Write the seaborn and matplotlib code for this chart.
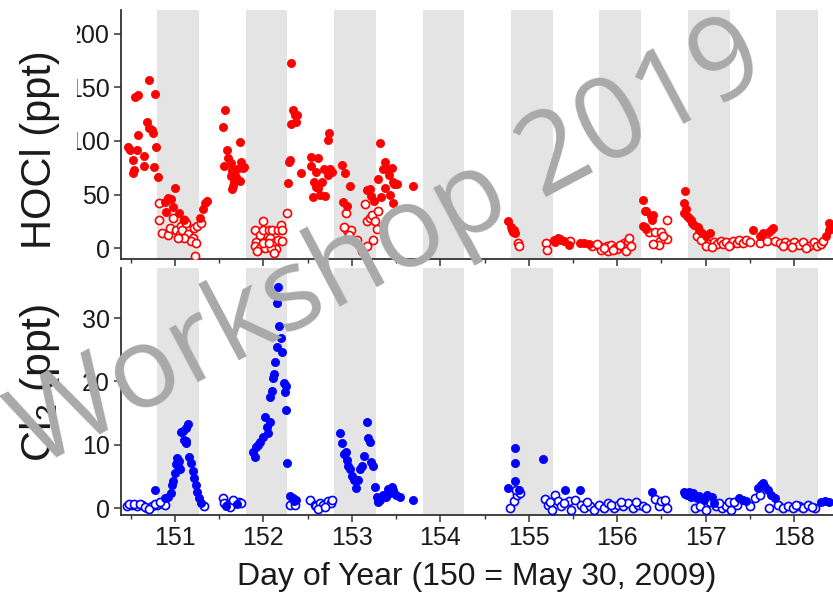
import matplotlib
matplotlib.use("Agg")
import matplotlib.pyplot as plt
from matplotlib.patches import Rectangle
from matplotlib.ticker import MultipleLocator
import pandas as pd
import seaborn as sns

# ---- nighttime intervals (day of year) ----
night_start = [150.80, 151.80, 152.80, 153.80, 154.80, 155.80, 156.80, 157.80]
night_end = [151.27, 152.27, 153.27, 154.27, 155.27, 156.27, 157.27, 158.27]

# ---- HOCl (ppt): above detection (filled) ----
hocl_fill_day = [
    150.47, 150.49, 150.53, 150.54, 150.53, 150.55, 150.58, 150.58, 150.57, 150.65,
    150.68, 150.71, 150.65, 150.71, 150.74, 150.75, 150.77, 150.76, 150.79, 150.81,
    150.89, 150.92, 150.95, 151.00, 150.98, 150.90, 151.05, 151.10, 151.28, 151.32,
    151.34, 151.36,
    151.57, 151.54, 151.59, 151.60, 151.56, 151.63, 151.64, 151.65, 151.63, 151.70,
    151.74, 151.69, 151.67, 151.66, 151.64, 151.74, 151.75, 151.77, 151.78,
    152.31, 152.34, 152.36, 152.37, 152.31, 152.38, 152.30, 152.29, 152.28, 152.42,
    152.54, 152.54, 152.56, 152.57, 152.60, 152.60, 152.62, 152.62, 152.64, 152.66,
    152.68, 152.70, 152.73, 152.74, 152.75, 152.77, 152.73, 152.89, 152.92, 152.98,
    152.95, 152.90,
    153.17, 153.20, 153.22, 153.25, 153.32, 153.35, 153.37, 153.40, 153.45, 153.46,
    153.48, 153.51, 153.47, 153.43, 153.33, 153.38, 153.69, 153.30, 153.42,
    154.77, 154.81, 154.82, 154.83, 154.85, 154.80,
    155.28, 155.33, 155.35, 155.40, 155.45, 155.58, 155.63, 155.68, 155.37, 155.30,
    156.29, 156.31, 156.33, 156.38, 156.40, 156.39, 156.31, 156.29, 156.33,
    156.77, 156.75, 156.76, 156.79, 156.83, 156.87, 156.91, 156.93, 156.96, 157.00,
    157.05, 156.78, 156.81, 156.85,
    157.54, 157.62, 157.65, 157.72, 157.76, 157.74,
    158.39, 158.40, 158.36, 158.42,
]
hocl_fill_ppt = [
    94, 92, 82, 73, 70, 141, 143, 106, 92, 86,
    118, 157, 77, 112, 110, 107, 144, 76, 94, 66,
    43, 47, 46, 56, 38, 34, 33, 26, 28, 37,
    42, 44,
    129, 113, 92, 84, 77, 79, 73, 69, 67, 74,
    99, 66, 62, 58, 55, 63, 80, 75, 76,
    173, 129, 124, 118, 116, 124, 82, 80, 61, 70,
    85, 77, 48, 62, 57, 71, 56, 84, 50, 62,
    74, 49, 101, 107, 74, 71, 68, 78, 70, 58,
    39, 43,
    54, 55, 49, 44, 98, 74, 80, 74, 75, 62,
    60, 60, 42, 50, 48, 56, 58, 65, 68,
    25, 17, 15, 17, 14, 20,
    8, 10, 9, 7, 3, 5, 5, 4, 8, 6,
    45, 35, 35, 30, 31, 26, 20, 21, 18,
    53, 42, 33, 30, 26, 22, 20, 17, 14, 11,
    14, 37, 28, 24,
    17, 11, 14, 15, 19, 17,
    17, 24, 11, 20,
]

# ---- HOCl (ppt): near/below detection (open) ----
hocl_open_day = [
    150.82, 150.82, 150.85, 150.92, 150.94, 150.98, 151.01, 151.06, 151.07, 151.08,
    151.10, 151.13, 151.15, 151.20, 151.21, 151.18, 151.24, 151.23, 151.25, 151.30,
    151.10, 151.04,
    151.90, 151.92, 151.96, 151.99, 152.00, 152.02, 152.06, 152.07, 152.10, 152.13,
    152.14, 152.16, 152.20, 152.21, 152.27, 151.90, 151.96, 152.02, 152.09, 151.99,
    152.06, 152.17, 152.21, 151.93, 152.12,
    152.93, 152.95, 152.99, 153.06, 152.91, 152.97,
    153.15, 153.17, 153.20, 153.23, 153.26, 153.17, 153.24, 153.30, 153.12, 153.28,
    154.88, 154.89,
    155.19, 155.21, 155.47, 155.72, 155.80, 155.82, 155.88, 155.90, 155.93, 155.98,
    156.00, 156.06, 156.08, 156.12, 156.13, 155.85, 155.95, 156.03, 156.10, 156.16,
    155.77,
    156.36, 156.43, 156.49, 156.56, 156.56, 156.48, 156.47, 156.40, 156.52,
    156.90, 156.95, 157.04, 157.10, 157.13, 157.17, 157.20, 157.23, 157.29, 157.31,
    157.35, 157.38, 157.00, 157.07, 157.26, 157.42, 157.46, 157.50,
    157.62, 157.69, 157.78, 157.84, 157.90, 157.95, 158.00, 158.05, 158.10, 158.17,
    158.22, 158.26, 158.30, 158.33, 157.98, 158.13, 157.87,
]
hocl_open_ppt = [
    42, 26, 14, 12, 19, 28, 17, 13, 21, 17,
    26, 24, 13, 10, 19, 7, 5, -7, 21, 24,
    10, 10,
    17, 6, 12, 25, 17, 6, 17, 10, 17, 6,
    -1, 17, 22, 17, 33, 2, 0, 0, 0, 5,
    5, 8, 7, -3, -4,
    33, 17, 17, 8, 20, 12,
    41, 25, 28, 31, 25, 2, 8, 35, -3, 18,
    5, 2,
    5, -2, 7, 2, 2, -2, 2, -3, 3, 0,
    -1, 2, 5, 7, 10, 0, -2, 3, -3, 2,
    4,
    15, 15, 15, 26, 9, 7, 3, 4, 11,
    11, 8, 4, 6, 4, 7, 4, 6, 4, 7,
    5, 8, 2, 1, 2, 5, 8, 6,
    5, 7, 7, 5, 6, 4, 6, 3, 6, 2,
    6, 2, 4, 7, 1, 0, 2,
]

# ---- Cl2 (ppt): above detection (filled) ----
cl2_fill_day = [
    150.77, 150.89, 150.92, 150.96, 150.97, 150.98, 151.00, 151.02, 151.03, 151.05,
    151.06, 151.09, 151.10, 151.12, 151.13, 151.15, 151.13, 151.16, 151.18, 151.20,
    151.22, 151.24, 151.25, 151.27, 151.29, 151.01, 151.07,
    151.58, 151.70,
    151.88, 151.90, 151.92, 151.94, 151.96, 151.99, 152.02, 152.04, 152.05, 152.07,
    152.08, 152.10, 152.12, 152.13, 152.15, 152.15, 152.16, 152.18, 152.20, 152.21,
    152.23, 152.25, 152.26, 152.27, 152.30, 152.33, 152.35, 152.37, 152.11, 152.24,
    152.87, 152.89, 152.93, 152.94, 152.96, 152.98, 153.00, 153.02, 153.05, 153.07,
    153.09, 153.12, 153.14, 153.17, 153.18, 153.20, 153.22, 153.24, 153.26, 153.28,
    153.32, 153.35, 153.39, 153.43, 153.47, 153.50, 153.54, 153.69, 153.30, 153.41,
    153.45, 152.91,
    154.85, 154.85, 154.85, 154.77, 154.89, 155.16, 155.41, 155.58, 156.39,
    156.75, 156.79, 156.83, 156.86, 156.90, 156.98, 157.01, 157.07, 157.10, 157.38,
    157.42, 157.46, 156.77, 156.81, 156.93,
    157.59, 157.63, 157.67, 157.70, 157.74, 157.78, 157.65,
    158.30, 158.35, 158.40,
]
cl2_fill_ppt = [
    2.8, 1.6, 1.8, 2.4, 3.7, 4.2, 5.5, 7.9, 6.6, 7.4,
    6.1, 12.1, 10.8, 10.6, 10.3, 13.2, 12.6, 8.1, 7.1, 5.8,
    4.7, 3.7, 2.6, 1.6, 0.8, 6.9, 12.0,
    0.3, 0.6,
    8.8, 8.1, 9.6, 9.9, 10.4, 11.2, 14.4, 12.8, 11.8, 13.6,
    17.5, 18.5, 21.2, 23.0, 25.4, 32.4, 34.9, 28.7, 26.8, 24.7,
    19.7, 19.2, 15.5, 7.1, 1.9, 1.6, 1.1, 1.3, 20.6, 18.3,
    11.8, 10.2, 8.9, 7.6, 6.6, 6.1, 5.0, 4.5, 3.2, 4.5,
    6.1, 6.6, 8.2, 13.6, 11.0, 10.5, 7.3, 6.6, 3.4, 1.8,
    1.3, 2.1, 1.8, 2.4, 2.9, 2.1, 1.8, 1.3, 1.0, 3.0,
    3.4, 8.5,
    9.5, 7.1, 4.2, 3.2, 2.9, 7.7, 2.9, 2.9, 2.5,
    2.5, 2.1, 1.8, 2.4, 1.6, 1.3, 2.1, 1.8, 0.8, 1.6,
    1.3, 1.1, 2.2, 2.6, 1.9,
    3.2, 3.7, 3.4, 2.9, 2.1, 1.6, 3.9,
    0.9, 1.1, 0.9,
]

# ---- Cl2 (ppt): near/below detection (open) ----
cl2_open_day = [
    150.46, 150.51, 150.57, 150.63, 150.68, 150.74, 150.80, 150.85, 150.89, 150.48,
    150.54, 150.60, 150.66, 150.71, 150.77, 150.83, 151.33,
    151.54, 151.56, 151.60, 151.64, 151.68, 151.72, 151.75, 151.62, 151.66,
    152.30, 152.36,
    152.53, 152.58, 152.60, 152.64, 152.67, 152.73, 152.76, 152.78, 152.62, 152.70,
    154.79, 154.83, 154.87, 154.90, 154.86,
    155.18, 155.22, 155.26, 155.30, 155.33, 155.37, 155.45, 155.48, 155.52, 155.59,
    155.63, 155.69, 155.74, 155.80, 155.85, 155.90, 155.96, 156.01, 156.07, 156.12,
    156.18, 156.24, 156.29, 156.33, 156.43, 156.47, 156.50, 156.54, 156.56, 155.24,
    155.40, 155.66, 155.93, 156.04, 156.21,
    156.88, 156.94, 157.00, 157.12, 157.18, 157.23, 157.29, 157.35, 157.50, 157.05,
    157.15, 157.26, 157.32,
    157.56, 157.72, 157.82, 157.88, 157.93, 157.99, 158.05, 158.10, 158.16, 158.24,
    157.61, 158.02, 158.20,
]
cl2_open_ppt = [
    0.3, 0.5, 0.3, 0.4, 0.0, 0.3, 0.5, 0.8, 0.5, 0.6,
    0.7, 0.6, 0.2, -0.2, 0.6, 1.0, 0.3,
    1.6, 0.8, 0.5, 1.0, 0.8, 1.0, 0.8, 0.2, 1.2,
    0.5, 0.5,
    1.3, 0.5, 0.3, 0.8, 0.5, 1.1, 0.8, 1.3, -0.1, 0.2,
    0.0, 1.1, 2.1, 2.4, 2.9,
    1.5, 0.5, -0.3, 2.1, 1.1, 0.3, 1.1, -0.3, 1.3, 0.5,
    0.0, 0.3, -0.3, 0.5, 0.0, 0.8, 0.0, 0.5, 0.3, 0.8,
    0.0, 0.5, 0.3, 0.0, 1.5, 0.3, 1.1, 1.3, 0.0, 1.0,
    0.8, 0.9, 0.4, 1.0, 0.9,
    0.0, 0.3, -0.3, 0.3, 0.0, 0.3, -0.3, 0.5, 0.3, 0.9,
    0.8, 0.9, 1.0,
    1.6, 0.0, 0.5, 0.0, 0.3, 0.0, 0.3, 0.0, 0.5, 0.0,
    2.1, 0.4, 0.2,
]

x_ticks = [151, 152, 153, 154, 155, 156, 157, 158]
hocl_ticks = [0, 50, 100, 150, 200]
cl2_ticks = [0, 10, 20, 30]

# ---- styling ----
sns.set_theme(style="white")
plt.rcParams["font.family"] = ["Liberation Sans", "DejaVu Sans"]
plt.rcParams["text.color"] = "#1a1a1a"
plt.rcParams["xtick.color"] = "#1a1a1a"
plt.rcParams["ytick.color"] = "#1a1a1a"

W, H = 833, 599
fig = plt.figure(figsize=(W / 100, H / 100), dpi=100)
fig.patch.set_facecolor("white")

left = 121 / W
ax1 = fig.add_axes([left, 1 - 259 / H, 1 - left, (259 - 10) / H])
ax2 = fig.add_axes([left, 1 - 515 / H, 1 - left, (515 - 268) / H])

hocl_fill = pd.DataFrame({"day": hocl_fill_day, "ppt": hocl_fill_ppt})
hocl_open = pd.DataFrame({"day": hocl_open_day, "ppt": hocl_open_ppt})
cl2_fill = pd.DataFrame({"day": cl2_fill_day, "ppt": cl2_fill_ppt})
cl2_open = pd.DataFrame({"day": cl2_open_day, "ppt": cl2_open_ppt})

band_color = "#e4e4e4"
for ax in (ax1, ax2):
    for s, e in zip(night_start, night_end):
        ax.axvspan(s, e, color=band_color, lw=0, zorder=0)

red, blue = "#ff0000", "#0000ff"
msize = 34
sns.scatterplot(data=hocl_open, x="day", y="ppt", ax=ax1, marker="o", s=msize,
                facecolor="white", edgecolor=red, linewidth=1.2, zorder=3)
sns.scatterplot(data=hocl_fill, x="day", y="ppt", ax=ax1, marker="o", s=msize,
                color=red, edgecolor=red, linewidth=0.6, zorder=4)
sns.scatterplot(data=cl2_open, x="day", y="ppt", ax=ax2, marker="o", s=msize,
                facecolor="white", edgecolor=blue, linewidth=1.2, zorder=3)
sns.scatterplot(data=cl2_fill, x="day", y="ppt", ax=ax2, marker="o", s=msize,
                color=blue, edgecolor=blue, linewidth=0.6, zorder=4)

xlim = (150.39, 158.44)
for ax in (ax1, ax2):
    ax.set_xlim(*xlim)
    ax.set_xticks(x_ticks)
    ax.xaxis.set_minor_locator(MultipleLocator(0.5))
    ax.set_facecolor("white")
    for side in ("top", "right"):
        ax.spines[side].set_visible(False)
    for side in ("left", "bottom"):
        ax.spines[side].set_color("#333333")
        ax.spines[side].set_linewidth(1.3)
    ax.tick_params(axis="both", which="major", direction="out", length=5, width=1.1,
                   color="#333333", labelsize=18, pad=3, left=True, bottom=True)
    ax.tick_params(axis="x", which="minor", direction="out", length=3, width=1.0,
                   color="#333333", bottom=True)
    ax.set_xlabel("")
    ax.set_ylabel("")

ax1.set_ylim(-10, 222)
ax1.set_yticks(hocl_ticks)
ax1.tick_params(axis="x", labelbottom=False)

ax2.set_ylim(-1.1, 37.9)
ax2.set_yticks(cl2_ticks)
ax2.set_xticks(x_ticks, [str(t) for t in x_ticks])
ax2.set_xlabel("Day of Year (150 = May 30, 2009)", fontsize=23, color="#1a1a1a")
ax2.xaxis.set_label_coords(0.5, -0.19)

# blank strip at the far left of the upper panel
fig.patches.append(Rectangle((0, 1 - 220 / H), 77 / W, 200 / H, transform=fig.transFigure,
                             facecolor="white", edgecolor="none", zorder=5))

fig.text(40 / W, 1 - 150 / H, "HOCl (ppt)", rotation=90, ha="center", va="center",
         fontsize=30, color="#1a1a1a", zorder=6)
fig.text(40 / W, 1 - 383 / H, "Cl$_\\mathregular{2}$ (ppt)", rotation=90, ha="center",
         va="center", fontsize=31, color="#1a1a1a", zorder=6)

fig.text(390 / W, 1 - 246 / H, "Workshop 2019", rotation=28, ha="center", va="center",
         fontsize=82, fontfamily=["Open Sans", "DejaVu Sans"], color="#a9a9a9", zorder=10)

fig.savefig("out.png", dpi=100, facecolor="white")
